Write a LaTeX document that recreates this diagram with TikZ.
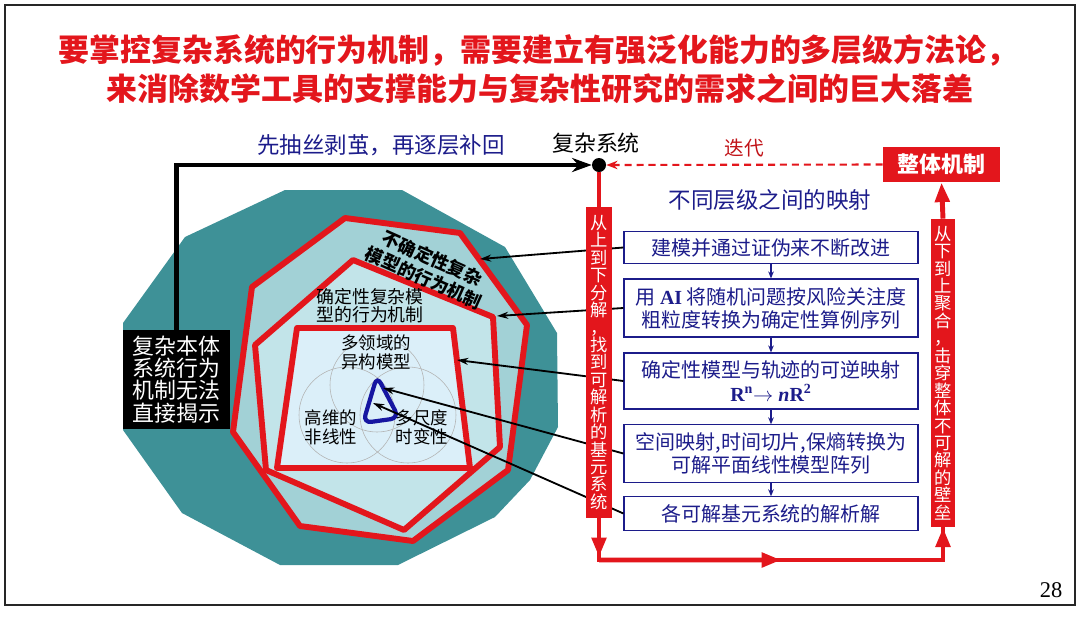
\documentclass[tikz,border=0pt]{standalone}
\usepackage{fontspec}
\setmainfont{Noto Sans CJK SC}
\newfontfamily\tmr{Liberation Serif}
\usetikzlibrary{arrows.meta, positioning, calc}
\definecolor{slred}{HTML}{E3161C}
\definecolor{navy}{HTML}{1C1C8A}
\definecolor{teal0}{HTML}{3E9197}
\definecolor{tealA}{HTML}{A2D1D6}
\definecolor{tealB}{HTML}{C2E4E9}
\definecolor{skyC}{HTML}{DBEFF9}

\begin{document}
\begin{tikzpicture}[x=0.025cm, y=-0.025cm,
  title/.style={font=\fontsize{22}{24}\selectfont\bfseries, text=slred},
  redpoly/.style={draw=slred, line width=4.2pt, line join=round},
  venn/.style={draw=gray!60, line width=0.4pt},
  reg/.style={align=center, font=\fontsize{12.7}{13}\selectfont, inner sep=0pt},
  venntxt/.style={align=center, font=\fontsize{12.4}{13.5}\selectfont, inner sep=0pt},
  navytxt/.style={text=navy, font=\fontsize{16}{18}\selectfont},
  lvl/.style={draw=navy, line width=0.8pt, fill=white, minimum width=7.35cm,
              align=center, text=navy, font=\fontsize{14.2}{16.5}\selectfont, inner sep=1pt},
  flow/.style={navy, line width=0.8pt, -{Stealth[length=5pt, width=4pt]}},
  link/.style={black, line width=1.3pt, -{Stealth[length=8pt, width=5pt]}},
  bbox/.style={fill=black, text=white, align=center, minimum width=2.68cm,
               minimum height=2.48cm, font=\fontsize{15.6}{15.8}\selectfont, inner sep=0pt},
  dot/.style={circle, fill=black, minimum size=0.35cm, inner sep=0pt},
  banner/.style={fill=slred, text=white, align=center, minimum width=0.65cm,
                 font=\fontsize{12.3}{12.4}\selectfont, inner sep=0pt},
  whole/.style={fill=slred, text=white, minimum width=2.93cm, minimum height=0.88cm,
                font=\fontsize{15.6}{17}\selectfont\bfseries, inner sep=0pt},
  redline/.style={slred, line width=3.5pt},
  redtip/.style={slred, line width=3.5pt, -{Triangle[length=14pt, width=10pt]}},
  iter/.style={slred, line width=1.5pt, dash pattern=on 5pt off 3.5pt,
               -{Stealth[length=8pt, width=6pt]}},
  thickarrow/.style={black, line width=3pt, -{Stealth[length=14pt, width=10pt]}}
]
  \useasboundingbox (0,0) rectangle (1080,640);

  % Frame and title
  \draw[line width=1.6pt, black!85] (5,5) rectangle (1075,605);
  \node[title] (T1) at (538,50) {要掌控复杂系统的行为机制，需要建立有强泛化能力的多层级方法论，};
  \node[title] (T2) at (540,89) {来消除数学工具的支撑能力与复杂性研究的需求之间的巨大落差};

  % Nested regions
  \fill[teal0] (285,190) -- (402,190) -- (505,247) -- (557,333) -- (558,427) -- (530,480)
    -- (495,517) -- (398,565) -- (280,565) -- (182,513) -- (123,430) -- (123,323) -- (185,237) -- cycle;
  \draw[redpoly, fill=tealA] (345,218) -- (460,233) -- (527,325) -- (508,470) -- (413,541)
    -- (300,526) -- (233,432) -- (252,287) -- cycle;
  \draw[redpoly, fill=tealB] (353,260) -- (493,317) -- (500,447) -- (404,530) -- (266,470)
    -- (255,345) -- cycle;
  \draw[redpoly, fill=skyC] (297,328) -- (453,328) -- (470,468) -- (277,468) -- cycle;

  % Venn circles and core
  \draw[venn] (377,385) circle[radius=47];
  \draw[venn] (347,415) circle[radius=48];
  \draw[venn] (408,415) circle[radius=48];
  \draw[navy!80!blue, line width=3pt, rounded corners=6pt] (377,376) -- (399,418) -- (363,423) -- cycle;

  % Region labels
  \node[reg, rotate=-24, font=\fontsize{12.7}{15}\selectfont\bfseries] (LA) at (428,268) {不确定性复杂\\模型的行为机制};
  \node[reg] (LB) at (370,306) {确定性复杂模\\型的行为机制};
  \node[venntxt] (V1) at (376,352) {多领域的\\异构模型};
  \node[venntxt] (V2) at (331,427) {高维的\\非线性};
  \node[venntxt] (V3) at (422,427) {多尺度\\时变性};

  % Black box and path to the system
  \node[bbox] (BB) at (176.5,379.5) {复杂本体\\系统行为\\机制无法\\直接揭示};
  \node[dot] (SYS) at (599,165) {};
  \node[font=\fontsize{15.6}{17}\selectfont] (SYSL) at (596,143) {复杂系统};
  \draw[thickarrow] (BB.north) |- (SYS.west);
  \node[navytxt] (PEEL) at (381,145) {先抽丝剥茧，再逐层补回};

  % Levels
  \node[navytxt] (MAP) at (770,200) {不同层级之间的映射};
  \node[lvl, minimum height=0.78cm] (B1) at (771,247.5) {建模并通过证伪来不断改进};
  \node[lvl, minimum height=1.45cm] (B2) at (771,308) {用 {\tmr\bfseries AI} 将随机问题按风险关注度\\粗粒度转换为确定性算例序列};
  \node[lvl, minimum height=1.4cm] (B3) at (771,381) {确定性模型与轨迹的可逆映射\\{\tmr\bfseries R\textsuperscript{n}$\rightarrow$ \textit{n}R\textsuperscript{2}}};
  \node[lvl, minimum height=1.43cm] (B4) at (771,453.5) {空间映射,时间切片,保熵转换为\\可解平面线性模型阵列};
  \node[lvl, minimum height=0.83cm] (B5) at (771,513.5) {各可解基元系统的解析解};
  \foreach \a/\b in {B1/B2, B2/B3, B3/B4, B4/B5}
    \draw[flow] (\a.south) -- (\b.north);

  % Links from levels to regions
  \coordinate (pA) at (480,259);
  \coordinate (pB) at (497,316);
  \coordinate (pC) at (457,360);
  \coordinate (pT1) at (383,388);
  \coordinate (pT2) at (373,403);
  \draw[link] (B1.west) -- (pA);
  \draw[link] (B2.west) -- (pB);
  \draw[link] (B3.west) -- (pC);
  \draw[link] (B4.west) -- (pT1);
  \draw[link] (B5.west) -- (pT2);

  % Red loop
  \node[banner, minimum height=7.78cm] (DEC) at (599,362.5)
    {从\\上\\到\\下\\分\\解\\，\\找\\到\\可\\解\\析\\的\\基\\元\\系\\统};
  \node[banner, minimum width=0.6cm, minimum height=7.7cm] (AGG) at (943,373)
    {从\\下\\到\\上\\聚\\合\\，\\击\\穿\\整\\体\\不\\可\\解\\的\\壁\\垒};
  \node[whole] (WM) at (941.5,164.5) {整体机制};
  \coordinate (CL) at (599,560);
  \coordinate (CR) at (943,560);
  \draw[redline] (SYS) -- (DEC.north);
  \draw[redline] (DEC.south) -- (CL) -- (CR) -- (AGG.south);
  \draw[redtip] (DEC.south) -- ([yshift=2pt]CL);
  \draw[redtip] (CL) -- ($(CL)!0.53!(CR)$);
  \draw[redtip] (CR) -- (AGG.south);
  \draw[redtip] (AGG.north) -- (WM.south);
  \draw[iter] (WM.west) -- node[above=1pt, text=slred!85!black, font=\fontsize{14}{16}\selectfont] (ITL) {迭代} (SYS.east);

  % Page number
  \node[font=\tmr\fontsize{16}{18}\selectfont] (PG) at (1051,590) {28};
\end{tikzpicture}
\end{document}
